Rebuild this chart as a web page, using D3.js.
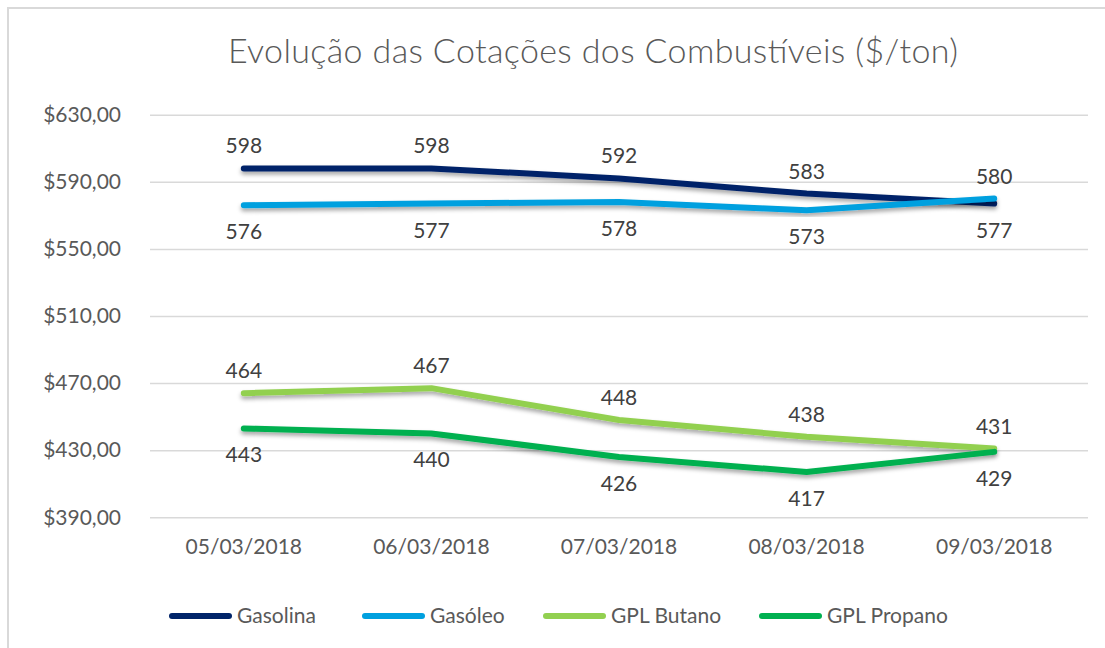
<!DOCTYPE html>
<html>
<head>
<meta charset="utf-8">
<script src="https://cdn.jsdelivr.net/npm/d3@7"></script>
<style>
  body { margin: 0; background: #fff; }
  svg text { font-family: Lato, "Liberation Sans", sans-serif; }
</style>
</head>
<body>
<div id="chart"></div>
<script>
'use strict';

const dates = ['05/03/2018', '06/03/2018', '07/03/2018', '08/03/2018', '09/03/2018'];
const seriesNames = ['Gasolina', 'Gasóleo', 'GPL Butano', 'GPL Propano'];
const gasolina = [598, 598, 592, 583, 577];
const gasoleo = [576, 577, 578, 573, 580];
const butano = [464, 467, 448, 438, 431];
const propano = [443, 440, 426, 417, 429];
const yTicks = [390, 430, 470, 510, 550, 590, 630];
const colors = ['#002469', '#00A0DF', '#92D050', '#00B050'];

const width = 1105;
const height = 648;
const margin = { top: 114.7, left: 150, right: 17, bottom: 130.7 };

const allSeries = [gasolina, gasoleo, butano, propano];
// label above for the higher line of each pair, below for the lower one
const pairOf = [1, 0, 3, 2];

const svg = d3.select('#chart').append('svg')
  .attr('width', width)
  .attr('height', height);

const defs = svg.append('defs');
const shadow = defs.append('filter')
  .attr('id', 'shadow')
  .attr('x', '-5%').attr('y', '-50%')
  .attr('width', '110%').attr('height', '200%');
shadow.append('feDropShadow')
  .attr('dx', 0).attr('dy', 3)
  .attr('stdDeviation', 2)
  .attr('flood-color', '#000')
  .attr('flood-opacity', 0.35);

// chart frame
svg.append('rect')
  .attr('x', 8).attr('y', 8)
  .attr('width', width + 10).attr('height', height + 10)
  .attr('fill', 'none')
  .attr('stroke', '#d9d9d9')
  .attr('stroke-width', 2);

svg.append('text')
  .attr('x', 593)
  .attr('y', 63)
  .attr('text-anchor', 'middle')
  .attr('font-size', '34px')
  .attr('font-weight', 300)
  .attr('textLength', 730)
  .attr('lengthAdjust', 'spacing')
  .attr('fill', '#595959')
  .text('Evolução das Cotações dos Combustíveis ($/ton)');

const xScale = d3.scaleBand()
  .domain(dates)
  .range([margin.left, width - margin.right]);

const yScale = d3.scaleLinear()
  .domain([390, 630])
  .range([height - margin.bottom, margin.top]);

const fmt = d => '$' + d3.format(',.2f')(d).replace('.', ',');

const yAxis = d3.axisLeft(yScale)
  .tickValues(yTicks)
  .tickSize(-(width - margin.right - margin.left))
  .tickPadding(29)
  .tickFormat(fmt);

const yG = svg.append('g')
  .attr('transform', `translate(${margin.left}, 0)`)
  .call(yAxis);
yG.select('.domain').remove();
yG.selectAll('.tick line')
  .attr('stroke', '#d9d9d9')
  .attr('stroke-width', 1.5);
yG.selectAll('.tick text')
  .attr('font-size', '21px')
  .attr('fill', '#595959');

const xAxis = d3.axisBottom(xScale)
  .tickSize(0)
  .tickPadding(22);

const xG = svg.append('g')
  .attr('transform', `translate(0, ${height - margin.bottom})`)
  .call(xAxis);
xG.select('.domain').remove();
xG.selectAll('.tick text')
  .attr('font-size', '21px')
  .attr('fill', '#595959');

const line = d3.line()
  .x((d, i) => xScale(dates[i]) + xScale.bandwidth() / 2)
  .y(d => yScale(d));

allSeries.forEach(function (values, s) {
  svg.append('path')
    .datum(values)
    .attr('d', line)
    .attr('fill', 'none')
    .attr('stroke', colors[s])
    .attr('stroke-width', 6)
    .attr('stroke-linecap', 'round')
    .attr('stroke-linejoin', 'round')
    .attr('filter', 'url(#shadow)');
});

allSeries.forEach(function (values, s) {
  const other = allSeries[pairOf[s]];
  svg.append('g').selectAll('text')
    .data(values)
    .join('text')
    .attr('x', (d, i) => xScale(dates[i]) + xScale.bandwidth() / 2)
    .attr('y', function (d, i) {
      const above = d >= other[i];
      return yScale(d) + (above ? -15 : 34);
    })
    .attr('text-anchor', 'middle')
    .attr('font-size', '21px')
    .attr('fill', '#404040')
    .text(d => d);
});

// legend
const legendX = [172, 365, 546, 762];
const legend = svg.append('g');
seriesNames.forEach(function (name, s) {
  const g = legend.append('g')
    .attr('transform', `translate(${legendX[s]}, 616)`);
  g.append('line')
    .attr('x1', 0).attr('x2', 57)
    .attr('y1', 0).attr('y2', 0)
    .attr('stroke', colors[s])
    .attr('stroke-width', 6)
    .attr('stroke-linecap', 'round');
  g.append('text')
    .attr('x', 65)
    .attr('y', 7)
    .attr('font-size', '21px')
    .attr('fill', '#595959')
    .text(name);
});
</script>
</body>
</html>
